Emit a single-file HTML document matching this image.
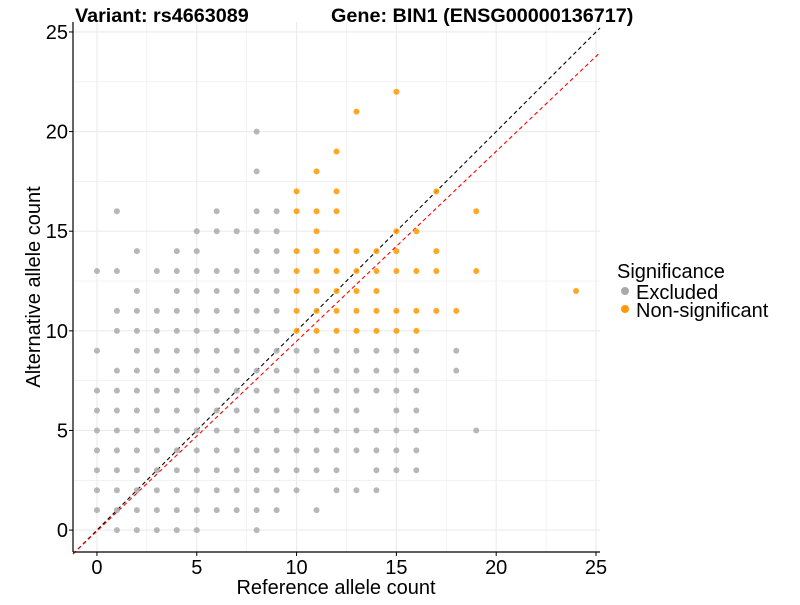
<!DOCTYPE html>
<html><head><meta charset="utf-8"><style>
body{margin:0;background:#fff;font-family:"Liberation Sans",sans-serif}
svg text{font-family:"Liberation Sans",sans-serif}
</style></head><body>
<svg id="chart" width="800" height="600" xmlns="http://www.w3.org/2000/svg">
<g id="grid"></g>
<g id="lines"></g>
<g id="pts"></g>
<g id="axes"></g>
<text x="75" y="22" font-size="19.8" font-weight="bold">Variant: rs4663089</text>
<text x="331" y="22" font-size="19.8" font-weight="bold">Gene: BIN1 (ENSG00000136717)</text>
<text x="336" y="594" font-size="20" text-anchor="middle">Reference allele count</text>
<text transform="translate(40,287) rotate(-90)" font-size="20" text-anchor="middle">Alternative allele count</text>
<g>
<text x="617" y="278" font-size="20">Significance</text>
<circle cx="625" cy="291" r="4" fill="#aaaaaa"/>
<text x="636" y="299" font-size="20">Excluded</text>
<circle cx="625" cy="309" r="4" fill="#ff9900"/>
<text x="636" y="317" font-size="20">Non-significant</text>
</g>
</svg>
<script>
const xTicks=[0,5,10,15,20,25];
const yTicks=[0,5,10,15,20,25];
// grey rows: [y, [x values]]
const greyRows=[
[0,[1,2,3,4,5,8]],
[1,[0,1,2,3,4,5,6,7,8,9,11]],
[2,[0,1,2,3,4,5,6,7,8,9,10,12,13,14]],
[3,[0,1,2,3,4,5,6,7,8,9,10,11,12,14,15,16]],
[4,[0,1,2,3,4,5,6,7,8,9,10,11,12,13,14,15,16]],
[5,[0,1,2,3,4,5,6,7,8,9,10,11,12,13,14,15,16,19]],
[6,[0,1,2,3,4,5,6,7,8,9,10,11,12,13,15,16]],
[7,[0,1,2,3,4,5,6,7,8,9,10,11,12,13,14,15,16]],
[8,[1,2,3,4,5,6,7,8,9,10,11,12,13,14,15,16,18]],
[9,[0,2,3,4,5,6,7,8,9,10,11,12,13,14,15,16,18]],
[10,[1,2,3,4,5,6,7,8,9]],
[11,[1,2,3,4,5,6,7,8,9]],
[12,[2,4,5,6,7,8,9]],
[13,[0,1,3,4,5,6,7,8,9]],
[14,[2,4,5,8,9]],
[15,[5,6,7,8,9]],
[16,[1,6,8,9]],
[18,[8]],
[20,[8]]];
const orangeRows=[
[10,[10,11,12,13,14,15,16]],
[11,[10,11,12,13,14,15,16,17,18]],
[12,[10,11,12,13,14,24]],
[13,[10,11,12,13,14,15,16,17,19]],
[14,[10,11,12,13,14,15,17]],
[15,[11,15,16]],
[16,[10,11,12,19]],
[17,[10,12,17]],
[18,[11]],
[19,[12]],
[21,[13]],
[22,[15]]];
const redSlope=0.953, redIntercept=-0.05;
const X0=-1.2,X1=25.2,Y0=-1.1,Y1=25.5;
const L=73,R=600,T=22,B=552;
const sx=v=>L+(v-X0)/(X1-X0)*(R-L);
const sy=v=>B-(v-Y0)/(Y1-Y0)*(B-T);
const NS="http://www.w3.org/2000/svg";
function mk(t,a,p){const e=document.createElementNS(NS,t);for(const k in a)e.setAttribute(k,a[k]);p.appendChild(e);return e;}
const grid=document.getElementById('grid');
for(let v=0;v<=25;v+=2.5){
 const gx=mk('line',{x1:sx(v),x2:sx(v),y1:T,y2:B,stroke:'#ebebeb','stroke-width':v%5?0.6:1.1},grid);
 
 
 const gy=mk('line',{x1:L,x2:R,y1:sy(v),y2:sy(v),stroke:'#ebebeb','stroke-width':v%5?0.6:1.1},grid);
 
 
}
const pts=document.getElementById('pts');
greyRows.forEach(([y,xs])=>xs.forEach(x=>{
 const c=mk('circle',{cx:sx(x),cy:sy(y),r:3,fill:'#aaaaaa','fill-opacity':0.85},pts);
 
 
}));
orangeRows.forEach(([y,xs])=>xs.forEach(x=>{
 const c=mk('circle',{cx:sx(x),cy:sy(y),r:3,fill:'#ff9900','fill-opacity':0.85},pts);
 
 
}));
const lines=document.getElementById('lines');
const bl=mk('line',{x1:sx(X0),y1:sy(X0),x2:sx(25.2),y2:sy(25.2),stroke:'#000','stroke-dasharray':'4,3','stroke-width':1.1},lines);


const rl=mk('line',{x1:sx(X0),y1:sy(X0*redSlope+redIntercept),x2:sx(X1),y2:sy(X1*redSlope+redIntercept),stroke:'#ff0000','stroke-dasharray':'4,3','stroke-width':1.1},lines);


const axes=document.getElementById('axes');
const ax=mk('line',{x1:L,x2:R,y1:B,y2:B,stroke:'#000','stroke-width':1.2},axes);


const ay=mk('line',{x1:L,x2:L,y1:T,y2:B,stroke:'#000','stroke-width':1.2},axes);


xTicks.forEach(v=>{
 mk('line',{x1:sx(v),x2:sx(v),y1:B,y2:B+4,stroke:'#000'},axes);
 const t=mk('text',{x:sx(v),y:B+22,'font-size':20,'text-anchor':'middle'},axes);
 t.textContent=v;
 
 
});
yTicks.forEach(v=>{
 mk('line',{x1:L-4,x2:L,y1:sy(v),y2:sy(v),stroke:'#000'},axes);
 const t=mk('text',{x:L-5,y:sy(v)+7,'font-size':20,'text-anchor':'end'},axes);
 t.textContent=v;
 
 
});
</script>
</body></html>
